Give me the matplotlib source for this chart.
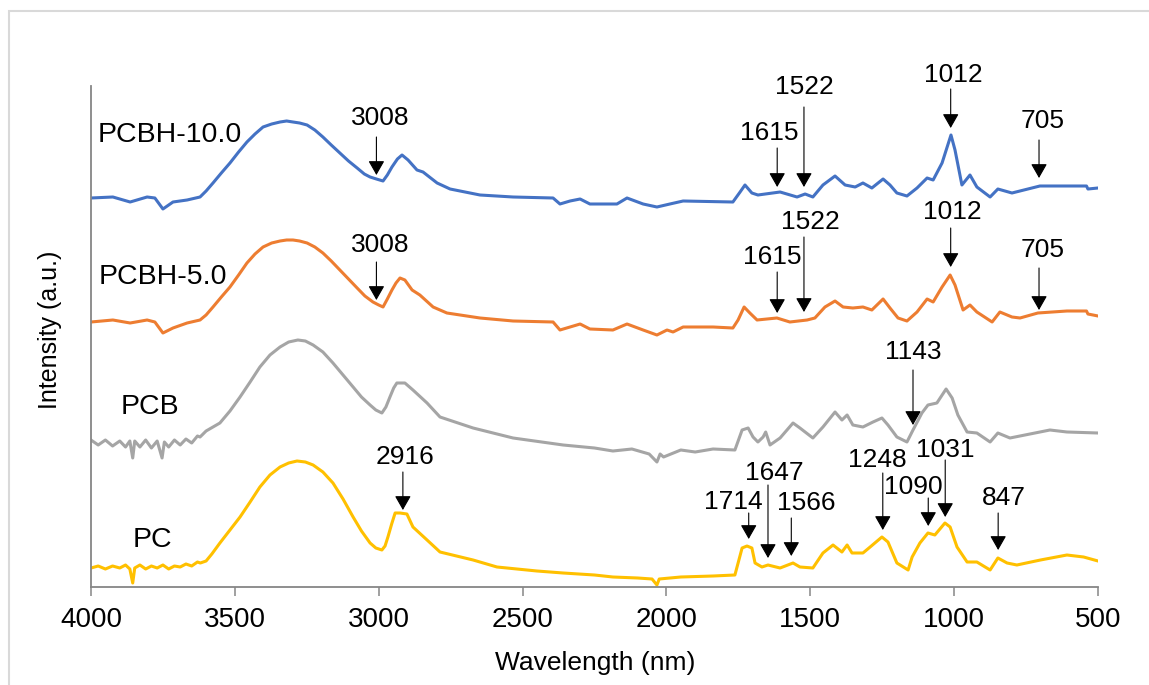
import matplotlib
matplotlib.use('Agg')
import matplotlib.pyplot as plt
from matplotlib.patches import Rectangle

# ---------------- data ----------------
# PC
pc_wn = [4000, 3975, 3950, 3925, 3900, 3880, 3865, 3855, 3848, 3830, 3810, 3790, 3770, 3750,
         3730, 3710, 3690, 3670, 3650, 3630, 3620, 3600, 3580, 3552, 3517, 3482, 3447, 3413,
         3378, 3343, 3313, 3284, 3255, 3228, 3194, 3159, 3124, 3089, 3060, 3030, 3010, 2989,
         2978, 2968, 2955, 2943, 2926, 2902, 2881, 2832, 2787, 2672, 2589, 2450, 2359,
         2250, 2186, 2100, 2050, 2033, 2025, 1950, 1838, 1762, 1737, 1720, 1703, 1692, 1668,
         1647, 1605, 1560, 1536, 1491, 1456, 1421, 1390, 1372, 1355, 1317, 1292, 1251, 1230,
         1199, 1160, 1146, 1119, 1091, 1067, 1032, 1014, 990, 955, 921, 875, 848, 816, 782,
         700, 608, 550, 500]
pc_int = [19, 21, 18, 21, 19, 22, 18, 4, 19, 22, 18, 21, 19, 22,
          18, 21, 20, 23, 21, 25, 24, 26, 33, 44, 57, 70, 85, 100,
          112, 120, 124, 126, 125, 122, 115, 104, 88, 70, 56, 44, 39, 37,
          41, 50, 63, 74, 74, 73, 60, 47, 35, 27, 20, 16, 14,
          12, 10, 9, 8, 2, 8, 10, 11, 12, 39, 41, 39, 24, 20,
          22, 19, 24, 20, 19, 34, 42, 35, 42, 34, 34, 40, 50, 45,
          24, 17, 30, 44, 54, 52, 64, 60, 40, 25, 25, 17, 29, 24, 22,
          27, 32, 30, 26]

# PCB
pcb_wn = [4000, 3975, 3950, 3925, 3900, 3880, 3865, 3855, 3848, 3830, 3810, 3790, 3770, 3753,
          3745, 3730, 3710, 3690, 3670, 3650, 3630, 3621, 3600,
          3552, 3517, 3482, 3447, 3413, 3378, 3343, 3313, 3281, 3255, 3228, 3194, 3159, 3124,
          3089, 3060, 3030, 3010, 2989, 2975, 2961, 2948, 2937, 2909, 2881,
          2832, 2787, 2672, 2533, 2359, 2250, 2186, 2120, 2060, 2033, 2022, 2010, 1950, 1900,
          1838, 1762, 1737, 1716, 1699, 1682, 1664, 1655, 1640, 1605, 1560, 1536, 1491, 1456,
          1414, 1390, 1372, 1352, 1317, 1282, 1251, 1230, 1199, 1164, 1143, 1112, 1091, 1060,
          1028, 1007, 987, 955, 921, 875, 848, 806, 667, 608, 500]
pcb_int = [147, 142, 147, 141, 146, 140, 146, 129, 146, 140, 147, 139, 146, 129,
           145, 140, 147, 142, 148, 144, 151, 150, 156,
           164, 176, 190, 205, 220, 232, 240, 245, 247, 246, 242, 235, 224, 212,
           200, 190, 182, 177, 174, 180, 190, 199, 204, 204, 197,
           184, 170, 159, 149, 142, 139, 136, 138, 133, 125, 133, 130, 137, 135,
           138, 137, 157, 159, 150, 145, 150, 155, 142, 149, 164, 159, 149, 160,
           175, 167, 172, 162, 160, 165, 169, 162, 150, 145, 157, 174, 182, 184,
           198, 189, 172, 155, 154, 145, 154, 149, 157, 155, 154]

# PCBH-5.0
p5_wn = [4000, 3924, 3864, 3805, 3778, 3750, 3715, 3666, 3621, 3600, 3576, 3547, 3517, 3487,
         3458, 3430, 3402, 3372, 3343, 3320, 3298, 3275, 3249, 3222, 3194, 3165, 3135, 3105,
         3075, 3048, 3020, 3000, 2985, 2970, 2954, 2940, 2926, 2909, 2884, 2857, 2811, 2763,
         2648, 2533, 2394, 2370, 2335, 2300, 2266, 2186, 2137, 2081, 2033, 1998, 1977, 1942,
         1838, 1769, 1751, 1730, 1710, 1685, 1616, 1571, 1511, 1484, 1449, 1414, 1386, 1352,
         1317, 1286, 1247, 1223, 1195, 1164, 1129, 1094, 1073, 1042, 1014, 997, 969, 945,
         921, 868, 841, 799, 771, 709, 608, 540, 535, 500]
p5_int = [265, 267, 264, 267, 265, 254, 259, 264, 267, 272, 280, 290, 300, 312,
          324, 333, 340, 344, 346, 347, 347, 346, 344, 340, 334, 326, 317, 308,
          299, 291, 285, 282, 280, 288, 297, 304, 309, 307, 297, 292, 280, 274,
          269, 266, 265, 257, 260, 263, 258, 257, 263, 257, 252, 257, 255, 260,
          260, 259, 267, 280, 274, 267, 269, 265, 267, 269, 280, 286, 280, 279,
          280, 277, 288, 279, 269, 266, 275, 288, 285, 300, 312, 302, 277, 282,
          275, 265, 275, 270, 269, 274, 276, 276, 273, 271]

# PCBH-10.0
p10_wn = [4000, 3924, 3864, 3805, 3778, 3750, 3715, 3666, 3621, 3600, 3576, 3547, 3517, 3487,
          3458, 3430, 3402, 3372, 3343, 3320, 3298, 3275, 3249, 3222, 3194, 3165, 3135, 3105,
          3075, 3050, 3030, 3008, 2985, 2970, 2954, 2935, 2919, 2898, 2867, 2846, 2797, 2752,
          2648, 2533, 2394, 2370, 2335, 2300, 2266, 2172, 2137, 2081, 2033, 1988, 1942, 1769,
          1744, 1727, 1703, 1682, 1605, 1546, 1518, 1491, 1456, 1414, 1379, 1344, 1317, 1286,
          1247, 1223, 1199, 1164, 1129, 1094, 1073, 1042, 1011, 997, 973, 945, 921, 875,
          848, 799, 702, 608, 540, 535, 500]
p10_int = [389, 390, 385, 390, 389, 378, 385, 387, 390, 396, 404, 414, 424, 435,
           445, 453, 460, 463, 465, 466, 465, 464, 462, 457, 450, 442, 434, 426,
           419, 413, 410, 408, 406, 412, 420, 428, 432, 427, 417, 415, 404, 398,
           392, 390, 389, 383, 386, 388, 383, 383, 389, 383, 380, 383, 386, 385,
           395, 402, 394, 392, 395, 390, 393, 390, 402, 411, 402, 400, 404, 399,
           408, 402, 394, 391, 399, 409, 407, 424, 452, 437, 402, 412, 400, 390,
           398, 394, 401, 401, 401, 398, 399]

series_names = ['PCBH-10.0', 'PCBH-5.0', 'PCB', 'PC']

# peak labels
p10_peaks = [3008, 1615, 1522, 1012, 705]
p5_peaks = [3008, 1615, 1522, 1012, 705]
pcb_peaks = [1143]
pc_peaks = [2916, 1714, 1647, 1566, 1248, 1090, 1031, 847]

x_ticks = [4000, 3500, 3000, 2500, 2000, 1500, 1000, 500]

# ---------------- layout ----------------
# (label x, label y, arrow top y, arrow tip y) for every peak label
p10_layout = [(2996, 469, 450, 412), (1643, 454, 439, 400), (1522, 500, 480, 400),
              (1004, 512, 498, 459), (691, 466, 447, 409)]
p5_layout = [(2996, 342, 325, 287), (1633, 330, 315, 274), (1501, 365, 350, 275),
             (1007, 375, 359, 320), (691, 337, 319, 277)]
pcb_layout = [(1143, 235, 217, 162)]
pc_layout = [(2909, 130, 115, 77), (1769, 85, 74, 48), (1626, 114, 102, 29),
             (1515, 84, 69, 31), (1268, 127, 114, 57), (1143, 100, 89, 61),
             (1032, 137, 127, 70), (827, 89, 74, 37)]
name_layout = [(3725, 452), (3750, 310), (3795, 180), (3785, 47)]

colors = ['#4472C4', '#ED7D31', '#A5A5A5', '#FFC000']

plt.rcParams['font.family'] = ['Liberation Sans', 'DejaVu Sans']

W, H = 1149, 685
fig = plt.figure(figsize=(W / 100, H / 100), dpi=100)
fig.patches.append(Rectangle((9 / W, -0.2), 2, 1.2 - 11 / H, transform=fig.transFigure,
                             fill=False, edgecolor='#d9d9d9', lw=1.5))
ax = fig.add_axes([91 / W, 1 - 587 / H, (1098 - 91) / W, (587 - 86) / H])

curves = [(p10_wn, p10_int), (p5_wn, p5_int), (pcb_wn, pcb_int), (pc_wn, pc_int)]
for (wn, inten), c in zip(curves, colors):
    ax.plot(wn, inten, color=c, lw=2.2, solid_joinstyle='round')

for name, (nx, ny) in zip(series_names, name_layout):
    ax.text(nx, ny, name, ha='center', va='center', fontsize=20.5, color='black')

aprops = dict(arrowstyle='-|>,head_length=0.35,head_width=0.2', mutation_scale=25,
              color='black', lw=0.8, shrinkA=0, shrinkB=0)
for peaks, layout in [(p10_peaks, p10_layout), (p5_peaks, p5_layout),
                      (pcb_peaks, pcb_layout), (pc_peaks, pc_layout)]:
    for val, (tx, ty, top, tip) in zip(peaks, layout):
        ax.text(tx, ty, str(val), ha='center', va='center', fontsize=19, color='black')
        ax.annotate('', xy=(val, tip), xytext=(val, top), arrowprops=aprops,
                    annotation_clip=False)

ax.set_xlim(4000, 500)
ax.set_ylim(0, 501)
ax.set_xticks(x_ticks)
ax.set_xticklabels([str(t) for t in x_ticks])
ax.set_yticks([])
for s in ['top', 'right']:
    ax.spines[s].set_visible(False)
for s in ['left', 'bottom']:
    ax.spines[s].set_color('#868686')
    ax.spines[s].set_linewidth(1.3)
ax.tick_params(axis='x', direction='out', length=6.5, width=1.1, color='#868686',
               labelsize=20, labelcolor='black', pad=8)

fig.text(595 / W, 1 - 663 / H, 'Wavelength (nm)', ha='center', va='center', fontsize=19)
fig.text(50 / W, 1 - 330 / H, 'Intensity (a.u.)', ha='center', va='center', fontsize=18,
         rotation=90)

fig.savefig('out.png', dpi=100)
